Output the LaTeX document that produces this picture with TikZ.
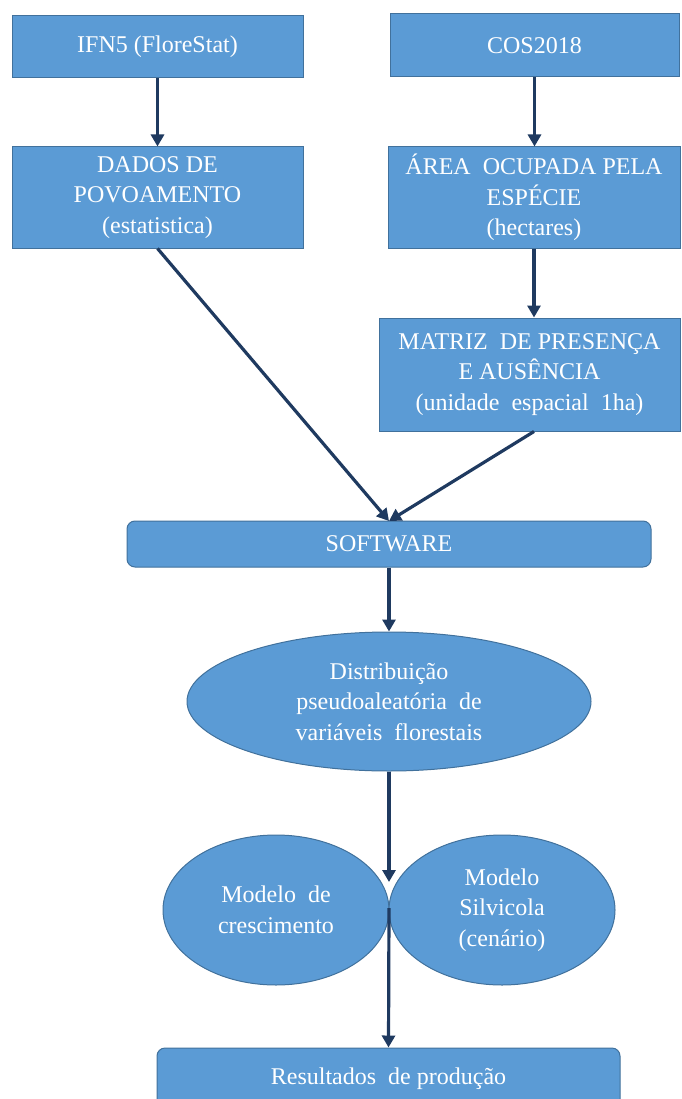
\documentclass[tikz,border=0pt]{standalone}
\usepackage{fontspec}
\setmainfont{Liberation Serif}
\usetikzlibrary{positioning,shapes.geometric,arrows.meta}
\definecolor{boxblue}{RGB}{91,155,213}
\definecolor{boxedge}{RGB}{65,113,156}
\definecolor{arrownavy}{RGB}{31,58,96}

\begin{document}
\begin{tikzpicture}[x=1pt,y=-1pt,
			box/.style={draw=boxedge,fill=boxblue,line width=1pt,rectangle,text=white,align=center,inner sep=0pt,
				font=\fontsize{24}{30.5}\selectfont},
			roundbox/.style={box,rounded corners=8pt},
			oval/.style={box,ellipse},
			flow/.style={draw=arrownavy,line width=3.2pt,-{Triangle[width=13pt,length=12pt]}}]
			\useasboundingbox (0,0) rectangle (681,1099);
			\node (ifn) [box,minimum width=291pt,minimum height=62pt] at (157.5,47) {IFN5 (FloreStat)};
			\node (cos) [box,minimum width=289pt,minimum height=63pt] at (534.5,45.5) {COS2018};
			\node (dados) [box,minimum width=291pt,minimum height=101pt] at (157.5,197.5)
				{DADOS DE\\ POVOAMENTO\\ (estatistica)};
			\node (area) [box,minimum width=292pt,minimum height=101pt] at (534,197.5)
				{ÁREA\ \ OCUPADA PELA\\ ESPÉCIE\\ (hectares)};
			\node (matriz) [box,minimum width=301pt,minimum height=113pt] at (529.5,374.5)
				{MATRIZ\ \ DE PRESENÇA\\ E AUSÊNCIA\\ (unidade\ \ espacial\ \ 1ha)};
			\node (soft) [roundbox,minimum width=524pt,minimum height=46pt] at (389,544) {SOFTWARE};
			\node (dist) [oval,minimum width=404pt,minimum height=139pt] at (389,701.5)
				{Distribuição\\ pseudoaleatória\ \ de\\ variáveis\ \ florestais};
			\node (cresc) [oval,minimum width=226pt,minimum height=150pt] at (276,910)
				{Modelo\ \ de\\ crescimento};
			\node (silv) [oval,minimum width=226pt,minimum height=150pt] at (502,910)
				{Modelo\\ Silvicola\\ (cenário)};
			\node (result) [roundbox,minimum width=463pt,minimum height=62pt] at (388.5,1079)
				{Resultados\ \ de produção};
			\coordinate (meet) at (389,521);
			\coordinate (gap) at (389,882);
			\coordinate (touch) at (389,908);
			\draw [flow] (ifn) -- (dados);
			\draw [flow] (cos.south) -- (cos.south |- area.north);
			\draw [flow] (area.south) -- (area.south |- matriz.north);
			\draw [flow] (dados.south) -- (meet);
			\draw [flow] (area.south |- matriz.south) -- (meet);
			\draw [flow] (soft.south) -- (dist.north);
			\draw [flow] (dist.south) -- (gap);
			\draw [flow] (touch) -- (result.north);
		\end{tikzpicture}
\end{document}
